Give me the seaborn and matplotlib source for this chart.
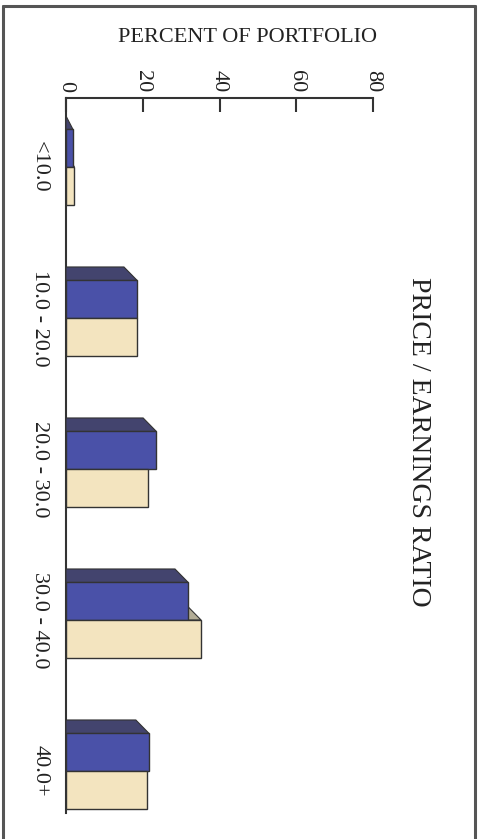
import matplotlib
matplotlib.use("Agg")
import matplotlib.pyplot as plt
import seaborn as sns
import pandas as pd
from matplotlib.patches import Polygon
from matplotlib.lines import Line2D

categories = ["<10.0", "10.0 - 20.0", "20.0 - 30.0", "30.0 - 40.0", "40.0+"]
series_names = ["Portfolio", "Benchmark"]
portfolio = [1.8, 18.5, 23.5, 31.8, 21.6]
benchmark = [2.2, 18.6, 21.3, 35.2, 21.1]
x_ticks = [0, 20, 40, 60, 80]

df = pd.DataFrame({
    "category": categories * 2,
    "value": portfolio + benchmark,
    "series": [series_names[0]] * len(categories) + [series_names[1]] * len(categories),
})

sns.set_theme(style="white")
plt.rcParams["font.family"] = ["Liberation Serif", "DejaVu Serif"]

W, H = 484, 839
fig = plt.figure(figsize=(W / 100, H / 100), dpi=100)
ax = fig.add_axes([66 / W, 1 - 813 / H, 307 / W, (813 - 98) / H])

blue = "#4a51a8"
tan = "#f3e4bf"
edge = "#333333"
sns.barplot(data=df, y="category", x="value", hue="series", order=categories,
            hue_order=series_names, palette=[blue, tan], saturation=1, width=0.5,
            orient="h", edgecolor=edge, linewidth=1.0, legend=False, ax=ax, zorder=3)

ax.set_xlim(0, 80)
ax.set_ylim(4.278, -0.457)

# pseudo-3D top faces derived from bar patches
d = 0.088
dx = 3.4
face_cols = ["#43446e", "#b3ad96"]
for i, cont in enumerate(ax.containers):
    for p in cont.patches:
        w = p.get_width()
        y0 = p.get_y()
        pts = [(0, y0), (0, y0 - d), (max(w - dx, 0), y0 - d), (w, y0)]
        ax.add_patch(Polygon(pts, closed=True, facecolor=face_cols[i],
                             edgecolor=edge, linewidth=0.8,
                             zorder=3 if i == 0 else 2))

ax.xaxis.tick_top()
ax.set_xticks(x_ticks)
ax.set_xticklabels([str(t) for t in x_ticks], rotation=-90, fontsize=16)
ax.tick_params(axis="x", direction="in", length=10, width=1.5, color=edge,
               top=True, bottom=False, pad=4, labelcolor="#222222")
ax.tick_params(axis="y", length=0, pad=12, labelsize=16, labelcolor="#222222")
for lbl in ax.get_yticklabels():
    lbl.set_rotation(-90)
    lbl.set_va("center")
    lbl.set_ha("right")
ax.set_xlabel("")
ax.set_ylabel("")
for s in ["right", "bottom"]:
    ax.spines[s].set_visible(False)
for s in ["top", "left"]:
    ax.spines[s].set_color(edge)
    ax.spines[s].set_linewidth(1.5)

fig.text(248 / W, 1 - 37 / H, "PERCENT OF PORTFOLIO", ha="center", va="center",
         fontsize=16, color="#222222")
fig.text(418 / W, 1 - 442 / H, "PRICE / EARNINGS RATIO", ha="center", va="center",
         rotation=-90, fontsize=20, color="#222222")

# outer frame
for xs, ys in [((3, 3), (6, H + 5)), ((3, 475), (6, 6)), ((475, 475), (6, H + 5))]:
    fig.add_artist(Line2D([x / W for x in xs], [1 - y / H for y in ys],
                          color="#555555", linewidth=2.2))

fig.savefig("out.png", dpi=100)
